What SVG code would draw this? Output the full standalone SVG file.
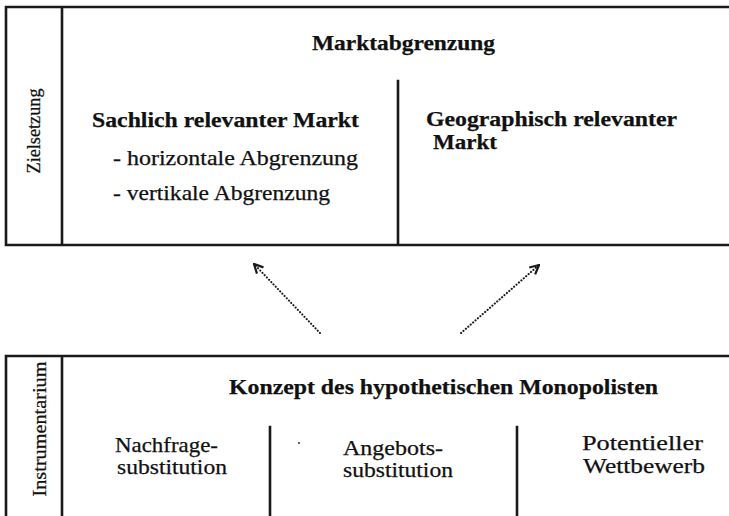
<svg xmlns="http://www.w3.org/2000/svg" width="729" height="516" viewBox="0 0 729 516">
<defs>
<style>
.frame{fill:none;stroke:#1a1a1a;stroke-width:2.6;stroke-linecap:square}
.t{font-family:"Liberation Serif","Times New Roman",serif;fill:#111;stroke:#111;stroke-width:0.25}
.b{font-weight:bold;font-size:22px}
.r{font-size:21px}
.side{font-size:18px}
.conn{fill:none;stroke:#1a1a1a;stroke-width:2.1;stroke-dasharray:0.1 3.1;stroke-linecap:round}
</style>
<marker id="ah" viewBox="0 0 12 12" refX="11" refY="6" markerWidth="12" markerHeight="12" markerUnits="userSpaceOnUse" orient="auto">
<path d="M2,1.5 L11,6 L2,10.5" fill="none" stroke="#1a1a1a" stroke-width="2.2"/>
</marker>
</defs>
<rect width="729" height="516" fill="#fff"/>

<g id="zielsetzung">
<path class="frame" d="M729,7 H6 V245 H729 M62,7 V245 M398,81 V245"/>
<text class="t side" transform="translate(40,131) rotate(-90)" text-anchor="middle" textLength="85" lengthAdjust="spacingAndGlyphs">Zielsetzung</text>
<text class="t b" x="312" y="50" textLength="183" lengthAdjust="spacingAndGlyphs">Marktabgrenzung</text>
</g>

<g id="sachlich">
<text class="t b" x="92" y="127" textLength="267" lengthAdjust="spacingAndGlyphs">Sachlich relevanter Markt</text>
<text class="t r" x="113" y="165" textLength="245" lengthAdjust="spacingAndGlyphs">- horizontale Abgrenzung</text>
<text class="t r" x="113" y="200" textLength="217" lengthAdjust="spacingAndGlyphs">- vertikale Abgrenzung</text>
</g>

<g id="geographisch">
<text class="t b" x="426" y="126" textLength="251" lengthAdjust="spacingAndGlyphs">Geographisch relevanter</text>
<text class="t b" x="433" y="149" textLength="64" lengthAdjust="spacingAndGlyphs">Markt</text>
</g>

<g id="connectors">
<line class="conn" x1="320" y1="333" x2="254" y2="264" marker-end="url(#ah)"/>
<line class="conn" x1="461" y1="333" x2="539" y2="265" marker-end="url(#ah)"/>
</g>

<g id="instrumentarium">
<path class="frame" d="M729,356 H6 V516 M62,356 V516 M270,427 V516 M517,427 V516"/>
<text class="t side" transform="translate(46,429) rotate(-90)" text-anchor="middle" textLength="135" lengthAdjust="spacingAndGlyphs">Instrumentarium</text>
<text class="t b" x="229" y="394" textLength="429" lengthAdjust="spacingAndGlyphs">Konzept des hypothetischen Monopolisten</text>
<circle cx="299" cy="443" r="1" fill="#333"/>
</g>

<g id="nachfrage">
<text class="t r" x="115" y="452" textLength="103" lengthAdjust="spacingAndGlyphs">Nachfrage-</text>
<text class="t r" x="117" y="474" textLength="110" lengthAdjust="spacingAndGlyphs">substitution</text>
</g>

<g id="angebot">
<text class="t r" x="343" y="455" textLength="100" lengthAdjust="spacingAndGlyphs">Angebots-</text>
<text class="t r" x="343" y="477" textLength="110" lengthAdjust="spacingAndGlyphs">substitution</text>
</g>

<g id="wettbewerb">
<text class="t r" x="582" y="450" textLength="121" lengthAdjust="spacingAndGlyphs">Potentieller</text>
<text class="t r" x="583" y="473" textLength="122" lengthAdjust="spacingAndGlyphs">Wettbewerb</text>
</g>
</svg>
